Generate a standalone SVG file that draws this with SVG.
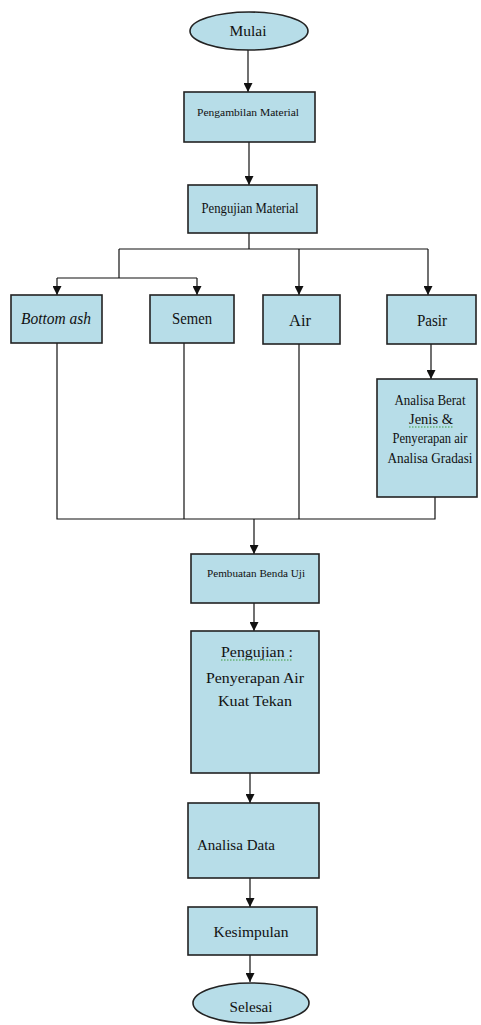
<svg xmlns="http://www.w3.org/2000/svg" width="481" height="1025" viewBox="0 0 481 1025">
<style>
.n{fill:#b7dde8;stroke:#222;stroke-width:1.6}
.t{fill:#111;text-anchor:middle}
.c{fill:none;stroke:#111;stroke-width:1.2}
.sq{fill:none;stroke:#3a9a3a;stroke-width:1;stroke-dasharray:1.5 1.5}
</style>
<defs>
<marker id="ah" viewBox="0 0 10 10" refX="10" refY="5" markerWidth="9" markerHeight="9" markerUnits="userSpaceOnUse" orient="auto">
<path d="M0,0 L10,5 L0,10 z" fill="#111"/>
</marker>
</defs>
<rect width="481" height="1025" fill="#fff"/>
<g id="connectors">
<line class="c" x1="248" y1="50" x2="248" y2="92" marker-end="url(#ah)"/>
<line class="c" x1="249" y1="142" x2="249" y2="185" marker-end="url(#ah)"/>
<polyline class="c" points="249,233 249,249"/>
<polyline class="c" points="119,249 428,249"/>
<polyline class="c" points="119,249 119,278"/>
<polyline class="c" points="57,278 197,278"/>
<line class="c" x1="57" y1="278" x2="57" y2="295" marker-end="url(#ah)"/>
<line class="c" x1="197" y1="278" x2="197" y2="295" marker-end="url(#ah)"/>
<line class="c" x1="299" y1="249" x2="299" y2="295" marker-end="url(#ah)"/>
<line class="c" x1="428" y1="249" x2="428" y2="295" marker-end="url(#ah)"/>
<line class="c" x1="431" y1="344" x2="431" y2="379" marker-end="url(#ah)"/>
<polyline class="c" points="57,343 57,519 435,519 435,497"/>
<line class="c" x1="184" y1="343" x2="184" y2="519"/>
<line class="c" x1="299" y1="344" x2="299" y2="519"/>
<line class="c" x1="254" y1="519" x2="254" y2="554" marker-end="url(#ah)"/>
<line class="c" x1="254" y1="603" x2="254" y2="631" marker-end="url(#ah)"/>
<line class="c" x1="250" y1="773" x2="250" y2="803" marker-end="url(#ah)"/>
<line class="c" x1="250" y1="878" x2="250" y2="907" marker-end="url(#ah)"/>
<line class="c" x1="250" y1="955" x2="250" y2="982" marker-end="url(#ah)"/>
</g>
<g id="nodes" font-family="Liberation Serif, Times New Roman, serif">
<g id="mulai">
<ellipse class="n" cx="249" cy="31" rx="59" ry="19"/>
<text class="t" x="248" y="36" font-size="15" textLength="37" lengthAdjust="spacingAndGlyphs">Mulai</text>
</g>
<g id="pengambilan">
<rect class="n" x="184" y="92" width="131" height="50"/>
<text class="t" x="248" y="116" font-size="11" textLength="102" lengthAdjust="spacingAndGlyphs">Pengambilan  Material</text>
</g>
<g id="pengujian-material">
<rect class="n" x="188" y="185" width="129" height="48"/>
<text class="t" x="250" y="213" font-size="14" textLength="97" lengthAdjust="spacingAndGlyphs">Pengujian Material</text>
</g>
<g id="bottom-ash">
<rect class="n" x="11" y="295" width="91" height="48"/>
<text class="t" x="56" y="324" font-size="16" font-style="italic" textLength="70" lengthAdjust="spacingAndGlyphs">Bottom ash</text>
</g>
<g id="semen">
<rect class="n" x="150" y="295" width="84" height="48"/>
<text class="t" x="192" y="324" font-size="16" textLength="40" lengthAdjust="spacingAndGlyphs">Semen</text>
</g>
<g id="air">
<rect class="n" x="263" y="295" width="77" height="49"/>
<text class="t" x="300" y="326" font-size="16" textLength="22" lengthAdjust="spacingAndGlyphs">Air</text>
</g>
<g id="pasir">
<rect class="n" x="387" y="295" width="89" height="49"/>
<text class="t" x="432" y="326" font-size="16" textLength="30" lengthAdjust="spacingAndGlyphs">Pasir</text>
</g>
<g id="analisa-berat">
<rect class="n" x="377" y="379" width="100" height="118"/>
<text class="t" x="430" y="405" font-size="14" textLength="71" lengthAdjust="spacingAndGlyphs">Analisa Berat</text>
<text class="t" x="431" y="424" font-size="14" textLength="44" lengthAdjust="spacingAndGlyphs">Jenis &amp;</text>
<path class="sq" d="M409,427 L453,427"/>
<text class="t" x="430" y="443" font-size="14" textLength="75" lengthAdjust="spacingAndGlyphs">Penyerapan air</text>
<text class="t" x="430" y="463" font-size="14" textLength="85" lengthAdjust="spacingAndGlyphs">Analisa Gradasi</text>
</g>
<g id="pembuatan">
<rect class="n" x="191" y="554" width="128" height="49"/>
<text class="t" x="256" y="577" font-size="11" textLength="98" lengthAdjust="spacingAndGlyphs">Pembuatan  Benda  Uji</text>
</g>
<g id="pengujian">
<rect class="n" x="191" y="631" width="128" height="142"/>
<text class="t" x="257" y="657" font-size="15" textLength="72" lengthAdjust="spacingAndGlyphs">Pengujian :</text>
<path class="sq" d="M221,660 L293,660"/>
<text class="t" x="255" y="683" font-size="15" textLength="98" lengthAdjust="spacingAndGlyphs">Penyerapan Air</text>
<text class="t" x="255" y="706" font-size="15" textLength="74" lengthAdjust="spacingAndGlyphs">Kuat Tekan</text>
</g>
<g id="analisa-data">
<rect class="n" x="188" y="803" width="131" height="75"/>
<text class="t" x="236" y="850" font-size="15" textLength="78" lengthAdjust="spacingAndGlyphs">Analisa Data</text>
</g>
<g id="kesimpulan">
<rect class="n" x="188" y="907" width="129" height="48"/>
<text class="t" x="251" y="937" font-size="15" textLength="75" lengthAdjust="spacingAndGlyphs">Kesimpulan</text>
</g>
<g id="selesai">
<ellipse class="n" cx="251" cy="1003" rx="58" ry="20"/>
<text class="t" x="251" y="1012" font-size="15" textLength="43" lengthAdjust="spacingAndGlyphs">Selesai</text>
</g>
</g>
</svg>
